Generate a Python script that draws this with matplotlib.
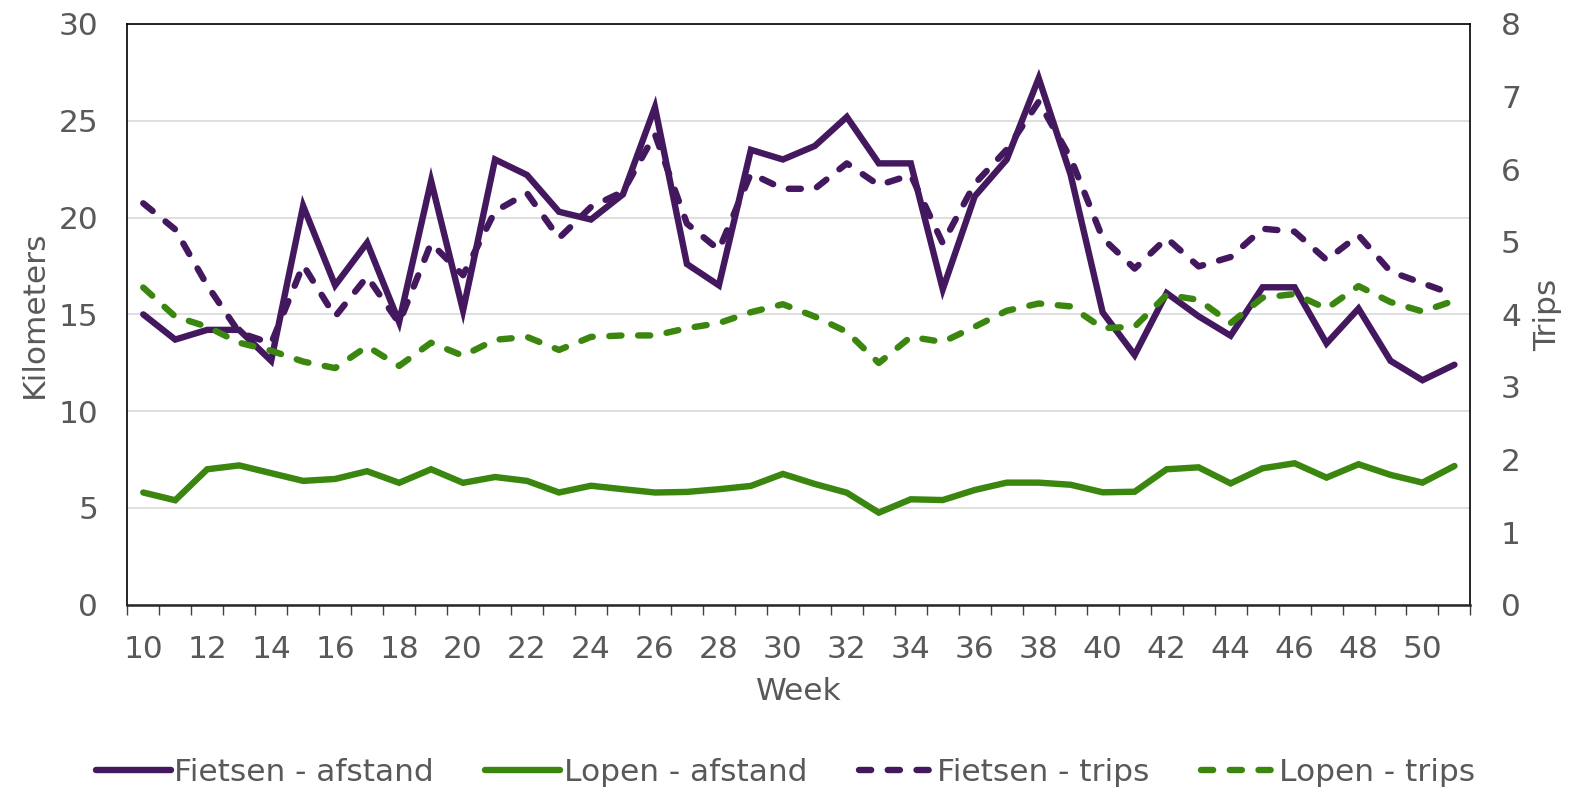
import numpy as np
import matplotlib
matplotlib.use("Agg")
import matplotlib.pyplot as plt
from matplotlib.ticker import FixedLocator

# ======================================================
# DATA
# ======================================================
weeks = list(range(10, 52))

fietsen_afstand = [15.0, 13.7, 14.2, 14.2, 12.6, 20.6, 16.5, 18.7, 14.6, 21.9,
                   15.2, 23.0, 22.2, 20.3, 19.9, 21.2, 25.7, 17.6, 16.5, 23.5,
                   23.0, 23.7, 25.2, 22.8, 22.8, 16.3, 21.1, 23.0, 27.2, 22.2,
                   15.1, 12.9, 16.1, 14.9, 13.9, 16.4, 16.4, 13.5, 15.3, 12.6,
                   11.6, 12.4]

lopen_afstand = [5.8, 5.4, 7.0, 7.2, 6.8, 6.4, 6.5, 6.9, 6.3, 7.0,
                 6.3, 6.6, 6.4, 5.8, 6.15, 5.97, 5.8, 5.83, 5.97, 6.14,
                 6.76, 6.24, 5.79, 4.76, 5.45, 5.41, 5.93, 6.31, 6.31, 6.2,
                 5.81, 5.84, 7.0, 7.1, 6.27, 7.05, 7.31, 6.57, 7.26, 6.71,
                 6.31, 7.17]

fietsen_trips = [5.53, 5.17, 4.4, 3.75, 3.6, 4.68, 3.97, 4.52, 3.88, 4.98,
                 4.54, 5.42, 5.67, 5.05, 5.48, 5.69, 6.48, 5.25, 4.89, 5.94,
                 5.73, 5.73, 6.08, 5.78, 5.92, 4.98, 5.8, 6.27, 6.93, 6.15,
                 5.05, 4.63, 5.05, 4.66, 4.79, 5.18, 5.14, 4.75, 5.09, 4.59,
                 4.43, 4.27]

lopen_trips = [4.37, 3.97, 3.83, 3.61, 3.5, 3.35, 3.26, 3.56, 3.29, 3.61,
               3.43, 3.65, 3.69, 3.51, 3.69, 3.71, 3.71, 3.81, 3.88, 4.03,
               4.14, 3.97, 3.76, 3.33, 3.69, 3.62, 3.83, 4.05, 4.15, 4.11,
               3.81, 3.83, 4.27, 4.2, 3.88, 4.23, 4.28, 4.08, 4.39, 4.17,
               4.04, 4.19]

# ======================================================
# STYLE
# ======================================================
PURPLE = "#43185f"
GREEN = "#3a860f"
TEXT = "#595959"
GRID = "#d9d9d9"
LW = 4.6
FS = 22.5

plt.rcParams["font.family"] = ["DejaVu Sans"]
plt.rcParams["text.color"] = TEXT
plt.rcParams["axes.labelcolor"] = TEXT

# ======================================================
# PLOT
# ======================================================
fig = plt.figure(figsize=(15.71, 7.91), dpi=100)
ax = fig.add_axes([0.081, 0.2354, 0.855, 0.7343])
ax2 = ax.twinx()

l1, = ax.plot(weeks, fietsen_afstand, color=PURPLE, lw=LW,
              solid_joinstyle="miter", solid_capstyle="round")
l2, = ax.plot(weeks, lopen_afstand, color=GREEN, lw=LW,
              solid_joinstyle="miter", solid_capstyle="round")
l3, = ax2.plot(weeks, fietsen_trips, color=PURPLE, lw=LW, dashes=(1.9, 2.6),
               dash_capstyle="round", dash_joinstyle="round")
l4, = ax2.plot(weeks, lopen_trips, color=GREEN, lw=LW, dashes=(1.9, 2.6),
               dash_capstyle="round", dash_joinstyle="round")

# axes limits / ticks
ax.set_xlim(9.5, 51.5)
ax.set_ylim(0, 30)
ax2.set_ylim(0, 8)
ax.set_yticks(np.arange(0, 31, 5))
ax2.set_yticks(np.arange(0, 9, 1))
ax.set_xticks(weeks[::2])
ax.xaxis.set_minor_locator(FixedLocator(np.arange(9.5, 52, 1)))

ax.tick_params(axis="x", which="major", length=0, pad=22, labelsize=FS, labelcolor=TEXT)
ax.tick_params(axis="x", which="minor", length=7, width=1, direction="out", color="#404040")
ax.tick_params(axis="y", length=0, pad=21, labelsize=FS, labelcolor=TEXT)
ax2.tick_params(axis="y", length=0, pad=22, labelsize=FS, labelcolor=TEXT)

ax.grid(axis="y", color=GRID, lw=1.2)
ax.set_axisbelow(True)

for s in ax.spines.values():
    s.set_color("black")
    s.set_linewidth(1.2)
ax.spines["bottom"].set_linewidth(1.8)
ax.spines["bottom"].set_color("#262626")
for s in ax2.spines.values():
    s.set_visible(False)

ax.set_xlabel("Week", fontsize=FS, labelpad=9)
ax.set_ylabel("Kilometers", fontsize=FS, labelpad=7)
ax2.set_ylabel("Trips", fontsize=FS, labelpad=9)

fig.legend([l1, l2, l3, l4],
           ["Fietsen - afstand", "Lopen - afstand", "Fietsen - trips", "Lopen - trips"],
           loc="center", bbox_to_anchor=(0.5, 0.024), ncol=4, frameon=False,
           fontsize=FS, handlelength=2.4, handletextpad=0.1, columnspacing=1.65,
           labelcolor=TEXT)

fig.savefig("out.png", dpi=100)
